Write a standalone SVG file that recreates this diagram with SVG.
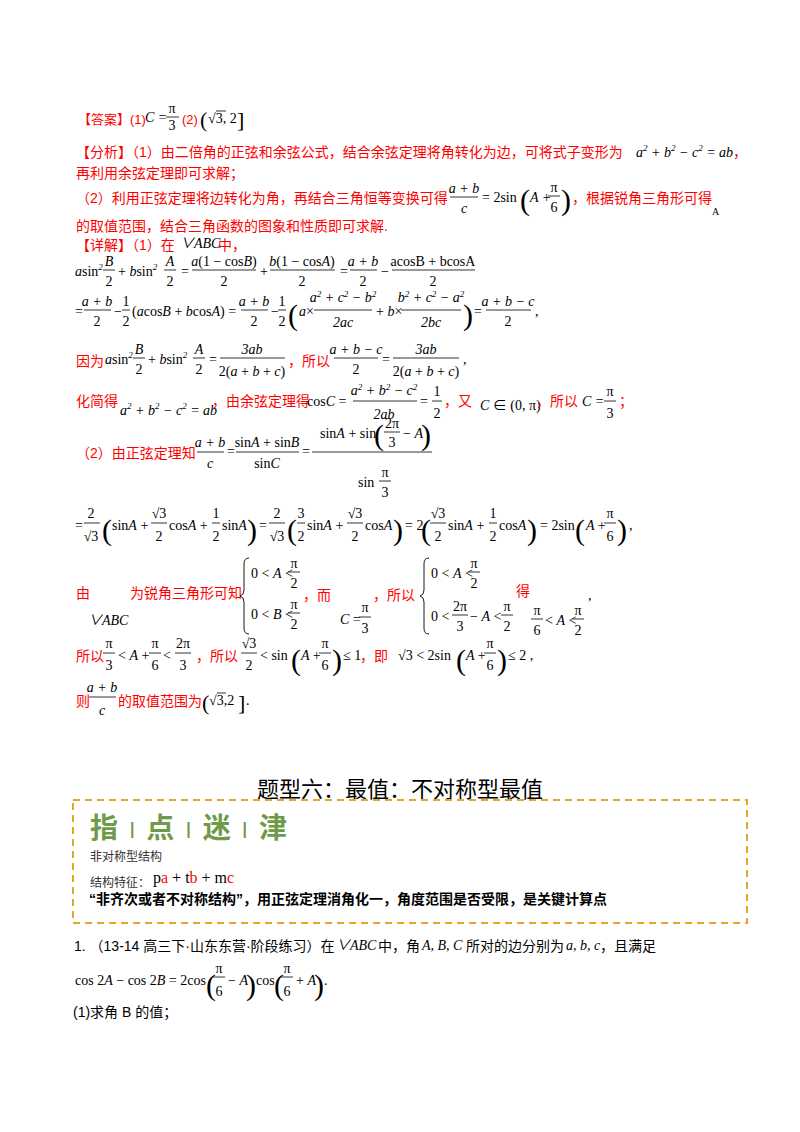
<svg xmlns="http://www.w3.org/2000/svg" width="800" height="1132" viewBox="0 0 800 1132">
<style>
.r{fill:#f00;font-family:"Liberation Sans","Noto Sans CJK SC",sans-serif;font-size:14px}
.k{fill:#000;font-family:"Liberation Sans","Noto Sans CJK SC",sans-serif;font-size:14px}
.m{fill:#000;font-family:"Liberation Serif","Noto Sans CJK SC",serif;font-size:14px}
.s{font-size:13px}
.c{text-anchor:middle}
.i{font-style:italic}
.p{fill:#000;font-family:"Liberation Serif",serif;font-size:30px}
.q{fill:#000;font-family:"Liberation Serif",serif;font-size:22px}
line{stroke:#000;stroke-width:0.8}
.br{fill:none;stroke:#000;stroke-width:0.9}
.sup{font-size:9px}
</style>
<rect width="800" height="1132" fill="#fff"/>
<g id="answer">
<text class="r s" x="78" y="124">【答案】(1)</text>
<text class="m i" x="145" y="122">C =</text>
<text class="m c" x="172" y="113">π</text><line x1="166" y1="117" x2="179" y2="117"/><text class="m c" x="172" y="130">3</text>
<text class="r s" x="182" y="124">(2)</text>
<text class="q" x="200" y="127">(</text><text class="m" x="208" y="123">√3, 2</text><line x1="216" y1="111" x2="226" y2="111"/><text class="q" x="237" y="127">]</text>
</g>
<g id="analysis">
<text class="r" x="76" y="157">【分析】（1）由二倍角的正弦和余弦公式，结合余弦定理将角转化为边，可将式子变形为</text>
<text class="m i" x="636" y="157">a<tspan class="sup" dy="-6">2</tspan><tspan dy="6"> + b</tspan><tspan class="sup" dy="-6">2</tspan><tspan dy="6"> − c</tspan><tspan class="sup" dy="-6">2</tspan><tspan dy="6"> = ab</tspan></text><text class="r" x="733" y="157">，</text>
<text class="r" x="76" y="178">再利用余弦定理即可求解；</text>
<text class="r" x="76" y="203">（2）利用正弦定理将边转化为角，再结合三角恒等变换可得</text>
<text class="m i c" x="464" y="193">a + b</text><line x1="450" y1="197" x2="478" y2="197"/><text class="m i c" x="464" y="213">c</text>
<text class="m" x="482" y="202">= 2sin</text><text class="p" x="520" y="210">(</text><text class="m i" x="530" y="202">A +</text>
<text class="m c" x="554" y="192">π</text><line x1="548" y1="196" x2="560" y2="196"/><text class="m c" x="554" y="212">6</text><text class="p" x="561" y="210">)</text>
<text class="r" x="572" y="203">，根据锐角三角形可得</text>
<text class="m" x="712" y="215" style="font-size:10px">A</text>
<text class="r" x="76" y="231">的取值范围，结合三角函数的图象和性质即可求解.</text>
</g>
<g id="detail1">
<text class="r" x="76" y="250">【详解】（1）在</text><text class="m i" x="180" y="248">∨ABC</text><text class="r" x="218" y="250">中，</text>
<text class="m i" x="75" y="276">a<tspan font-style="normal">sin</tspan><tspan class="sup" dy="-6">2</tspan></text>
<text class="m i c" x="109" y="266">B</text><line x1="103" y1="270" x2="115" y2="270"/><text class="m c" x="109" y="286">2</text>
<text class="m i" x="118" y="276"><tspan font-style="normal">+ </tspan>b<tspan font-style="normal">sin</tspan><tspan class="sup" dy="-6">2</tspan></text>
<text class="m i c" x="170" y="266">A</text><line x1="164" y1="270" x2="176" y2="270"/><text class="m c" x="170" y="286">2</text>
<text class="m" x="181" y="276">=</text>
<text class="m c" x="224" y="266"><tspan class="i">a</tspan>(1 − cos<tspan class="i">B</tspan>)</text><line x1="192" y1="270" x2="256" y2="270"/><text class="m c" x="224" y="286">2</text>
<text class="m" x="260" y="276">+</text>
<text class="m c" x="302" y="266"><tspan class="i">b</tspan>(1 − cos<tspan class="i">A</tspan>)</text><line x1="270" y1="270" x2="335" y2="270"/><text class="m c" x="302" y="286">2</text>
<text class="m" x="340" y="276">=</text>
<text class="m i c" x="363" y="266">a + b</text><line x1="350" y1="270" x2="377" y2="270"/><text class="m c" x="363" y="286">2</text>
<text class="m" x="381" y="276">−</text>
<text class="m c" x="433" y="266">acosB + bcosA</text><line x1="392" y1="270" x2="475" y2="270"/><text class="m c" x="433" y="286">2</text>

<text class="m" x="75" y="316">=</text>
<text class="m i c" x="97" y="306">a + b</text><line x1="84" y1="310" x2="111" y2="310"/><text class="m c" x="97" y="326">2</text>
<text class="m" x="114" y="316">−</text>
<text class="m c" x="126" y="306">1</text><line x1="122" y1="310" x2="130" y2="310"/><text class="m c" x="126" y="326">2</text>
<text class="m" x="132" y="316">(<tspan class="i">a</tspan>cos<tspan class="i">B</tspan> + <tspan class="i">b</tspan>cos<tspan class="i">A</tspan>) =</text>
<text class="m i c" x="254" y="306">a + b</text><line x1="241" y1="310" x2="268" y2="310"/><text class="m c" x="254" y="326">2</text>
<text class="m" x="271" y="316">−</text>
<text class="m c" x="282" y="306">1</text><line x1="278" y1="310" x2="286" y2="310"/><text class="m c" x="282" y="326">2</text>
<text class="p" x="288" y="325">(</text>
<text class="m i" x="299" y="316">a<tspan font-style="normal">×</tspan></text>
<text class="m i c" x="343" y="302">a<tspan class="sup" dy="-5">2</tspan><tspan dy="5"> + c</tspan><tspan class="sup" dy="-5">2</tspan><tspan dy="5"> − b</tspan><tspan class="sup" dy="-5">2</tspan></text><line x1="314" y1="310" x2="372" y2="310"/><text class="m i c" x="343" y="327">2ac</text>
<text class="m i" x="376" y="316"><tspan font-style="normal">+ </tspan>b<tspan font-style="normal">×</tspan></text>
<text class="m i c" x="431" y="302">b<tspan class="sup" dy="-5">2</tspan><tspan dy="5"> + c</tspan><tspan class="sup" dy="-5">2</tspan><tspan dy="5"> − a</tspan><tspan class="sup" dy="-5">2</tspan></text><line x1="401" y1="310" x2="461" y2="310"/><text class="m i c" x="431" y="327">2bc</text>
<text class="p" x="463" y="325">)</text>
<text class="m" x="474" y="316">=</text>
<text class="m i c" x="508" y="306">a + b − c</text><line x1="486" y1="310" x2="531" y2="310"/><text class="m c" x="508" y="326">2</text>
<text class="m" x="535" y="316">,</text>

<text class="r" x="76" y="366">因为</text>
<text class="m i" x="105" y="364">a<tspan font-style="normal">sin</tspan><tspan class="sup" dy="-6">2</tspan></text>
<text class="m i c" x="139" y="354">B</text><line x1="133" y1="358" x2="145" y2="358"/><text class="m c" x="139" y="374">2</text>
<text class="m i" x="148" y="364"><tspan font-style="normal">+ </tspan>b<tspan font-style="normal">sin</tspan><tspan class="sup" dy="-6">2</tspan></text>
<text class="m i c" x="199" y="354">A</text><line x1="193" y1="358" x2="205" y2="358"/><text class="m c" x="199" y="374">2</text>
<text class="m" x="209" y="364">=</text>
<text class="m i c" x="252" y="354">3ab</text><line x1="220" y1="358" x2="285" y2="358"/><text class="m c" x="252" y="376">2(<tspan class="i">a</tspan> + <tspan class="i">b</tspan> + <tspan class="i">c</tspan>)</text>
<text class="r" x="288" y="366">，所以</text>
<text class="m i c" x="356" y="354">a + b − c</text><line x1="334" y1="358" x2="378" y2="358"/><text class="m c" x="356" y="374">2</text>
<text class="m" x="382" y="364">=</text>
<text class="m i c" x="426" y="354">3ab</text><line x1="393" y1="358" x2="459" y2="358"/><text class="m c" x="426" y="376">2(<tspan class="i">a</tspan> + <tspan class="i">b</tspan> + <tspan class="i">c</tspan>)</text>
<text class="m" x="463" y="364">,</text>

<text class="r" x="76" y="406">化简得</text>
<text class="m i" x="120" y="415">a<tspan class="sup" dy="-6">2</tspan><tspan dy="6"> + b</tspan><tspan class="sup" dy="-6">2</tspan><tspan dy="6"> − c</tspan><tspan class="sup" dy="-6">2</tspan><tspan dy="6"> = ab</tspan></text>
<text class="r" x="212" y="406">，由余弦定理得</text>
<text class="m" x="307" y="406">cos<tspan class="i">C</tspan> =</text>
<text class="m i c" x="384" y="395">a<tspan class="sup" dy="-5">2</tspan><tspan dy="5"> + b</tspan><tspan class="sup" dy="-5">2</tspan><tspan dy="5"> − c</tspan><tspan class="sup" dy="-5">2</tspan></text><line x1="353" y1="401" x2="417" y2="401"/><text class="m i c" x="384" y="419">2ab</text>
<text class="m" x="420" y="406">=</text>
<text class="m c" x="437" y="396">1</text><line x1="432" y1="401" x2="442" y2="401"/><text class="m c" x="437" y="418">2</text>
<text class="r" x="444" y="406">，又</text>
<text class="m" x="480" y="410"><tspan class="i">C</tspan> ∈ (0, π)</text>
<text class="r" x="536" y="406">，所以</text>
<text class="m i" x="582" y="406">C =</text>
<text class="m c" x="610" y="396">π</text><line x1="604" y1="401" x2="616" y2="401"/><text class="m c" x="610" y="418">3</text>
<text class="r" x="619" y="406">；</text>
</g>
<g id="detail2">
<text class="r" x="76" y="458">（2）由正弦定理知</text>
<text class="m i c" x="210" y="447">a + b</text><line x1="197" y1="452" x2="224" y2="452"/><text class="m i c" x="210" y="468">c</text>
<text class="m" x="227" y="456">=</text>
<text class="m c" x="267" y="447">sin<tspan class="i">A</tspan> + sin<tspan class="i">B</tspan></text><line x1="236" y1="452" x2="299" y2="452"/><text class="m c" x="267" y="468">sin<tspan class="i">C</tspan></text>
<text class="m" x="302" y="456">=</text>
<text class="m" x="320" y="438">sin<tspan class="i">A</tspan> + sin</text>
<text class="p" x="374" y="445">(</text>
<text class="m c" x="392" y="428">2π</text><line x1="384" y1="432" x2="400" y2="432"/><text class="m c" x="392" y="447">3</text>
<text class="m i" x="403" y="438"><tspan font-style="normal">− </tspan>A</text>
<text class="p" x="421" y="445">)</text>
<line x1="312" y1="452" x2="432" y2="452"/>
<text class="m" x="358" y="487">sin</text>
<text class="m c" x="385" y="477">π</text><line x1="379" y1="481" x2="391" y2="481"/><text class="m c" x="385" y="497">3</text>

<text class="m" x="75" y="530">=</text>
<text class="m c" x="91" y="518">2</text><line x1="84" y1="523" x2="100" y2="523"/><text class="m c" x="91" y="541">√3</text>
<text class="p" x="102" y="540">(</text>
<text class="m" x="112" y="530">sin<tspan class="i">A</tspan> +</text>
<text class="m c" x="159" y="518">√3</text><line x1="151" y1="523" x2="167" y2="523"/><text class="m c" x="159" y="541">2</text>
<text class="m" x="169" y="530">cos<tspan class="i">A</tspan> +</text>
<text class="m c" x="216" y="518">1</text><line x1="212" y1="523" x2="220" y2="523"/><text class="m c" x="216" y="541">2</text>
<text class="m" x="222" y="530">sin<tspan class="i">A</tspan></text>
<text class="p" x="247" y="540">)</text>
<text class="m" x="259" y="530">=</text>
<text class="m c" x="277" y="518">2</text><line x1="269" y1="523" x2="285" y2="523"/><text class="m c" x="277" y="541">√3</text>
<text class="p" x="287" y="540">(</text>
<text class="m c" x="301" y="518">3</text><line x1="297" y1="523" x2="305" y2="523"/><text class="m c" x="301" y="541">2</text>
<text class="m" x="307" y="530">sin<tspan class="i">A</tspan> +</text>
<text class="m c" x="355" y="518">√3</text><line x1="347" y1="523" x2="363" y2="523"/><text class="m c" x="355" y="541">2</text>
<text class="m" x="365" y="530">cos<tspan class="i">A</tspan></text>
<text class="p" x="393" y="540">)</text>
<text class="m" x="405" y="530">= 2</text>
<text class="p" x="421" y="540">(</text>
<text class="m c" x="438" y="518">√3</text><line x1="430" y1="523" x2="446" y2="523"/><text class="m c" x="438" y="541">2</text>
<text class="m" x="448" y="530">sin<tspan class="i">A</tspan> +</text>
<text class="m c" x="493" y="518">1</text><line x1="489" y1="523" x2="497" y2="523"/><text class="m c" x="493" y="541">2</text>
<text class="m" x="499" y="530">cos<tspan class="i">A</tspan></text>
<text class="p" x="527" y="540">)</text>
<text class="m" x="540" y="530">= 2sin</text>
<text class="p" x="575" y="540">(</text>
<text class="m i" x="586" y="530">A <tspan font-style="normal">+</tspan></text>
<text class="m c" x="610" y="518">π</text><line x1="604" y1="523" x2="616" y2="523"/><text class="m c" x="610" y="541">6</text>
<text class="p" x="617" y="540">)</text>
<text class="m" x="629" y="530">,</text>

<text class="r" x="76" y="598">由</text>
<text class="m i" x="88" y="625">∨ABC</text>
<text class="r" x="130" y="598">为锐角三角形可知</text>
<path class="br" d="M249 558 Q244 558 244 564 L244 590 Q244 595 240 596 Q244 597 244 602 L244 628 Q244 634 249 634"/>
<text class="m" x="251" y="578">0 &lt; <tspan class="i">A</tspan> &lt;</text>
<text class="m c" x="294" y="568">π</text><line x1="288" y1="572" x2="300" y2="572"/><text class="m c" x="294" y="588">2</text>
<text class="m" x="251" y="619">0 &lt; <tspan class="i">B</tspan> &lt;</text>
<text class="m c" x="294" y="609">π</text><line x1="288" y1="613" x2="300" y2="613"/><text class="m c" x="294" y="629">2</text>
<text class="r" x="303" y="600">，而</text>
<text class="m i" x="340" y="624">C <tspan font-style="normal">=</tspan></text>
<text class="m c" x="365" y="612">π</text><line x1="359" y1="617" x2="371" y2="617"/><text class="m c" x="365" y="633">3</text>
<text class="r" x="373" y="600">，所以</text>
<path class="br" d="M429 558 Q424 558 424 564 L424 590 Q424 595 420 596 Q424 597 424 602 L424 628 Q424 634 429 634"/>
<text class="m" x="431" y="578">0 &lt; <tspan class="i">A</tspan> &lt;</text>
<text class="m c" x="474" y="568">π</text><line x1="468" y1="572" x2="480" y2="572"/><text class="m c" x="474" y="588">2</text>
<text class="m" x="431" y="621">0 &lt;</text>
<text class="m c" x="460" y="611">2π</text><line x1="452" y1="615" x2="468" y2="615"/><text class="m c" x="460" y="631">3</text>
<text class="m" x="470" y="621">− <tspan class="i">A</tspan> &lt;</text>
<text class="m c" x="507" y="611">π</text><line x1="501" y1="615" x2="513" y2="615"/><text class="m c" x="507" y="631">2</text>
<text class="r" x="516" y="596">得</text>
<text class="m c" x="537" y="615">π</text><line x1="531" y1="619" x2="543" y2="619"/><text class="m c" x="537" y="635">6</text>
<text class="m" x="545" y="625">&lt; <tspan class="i">A</tspan> &lt;</text>
<text class="m c" x="578" y="615">π</text><line x1="572" y1="619" x2="584" y2="619"/><text class="m c" x="578" y="635">2</text>
<text class="m" x="588" y="600">,</text>

<text class="r" x="76" y="661">所以</text>
<text class="m c" x="109" y="648">π</text><line x1="103" y1="653" x2="115" y2="653"/><text class="m c" x="109" y="670">3</text>
<text class="m" x="118" y="660">&lt; <tspan class="i">A</tspan> +</text>
<text class="m c" x="155" y="648">π</text><line x1="149" y1="653" x2="161" y2="653"/><text class="m c" x="155" y="670">6</text>
<text class="m" x="163" y="660">&lt;</text>
<text class="m c" x="183" y="648">2π</text><line x1="175" y1="653" x2="191" y2="653"/><text class="m c" x="183" y="670">3</text>
<text class="r" x="196" y="661">，所以</text>
<text class="m c" x="249" y="648">√3</text><line x1="241" y1="653" x2="257" y2="653"/><text class="m c" x="249" y="670">2</text>
<text class="m" x="260" y="660">&lt; sin</text>
<text class="p" x="291" y="670">(</text>
<text class="m i" x="301" y="660">A <tspan font-style="normal">+</tspan></text>
<text class="m c" x="325" y="648">π</text><line x1="319" y1="653" x2="331" y2="653"/><text class="m c" x="325" y="670">6</text>
<text class="p" x="332" y="670">)</text>
<text class="m" x="343" y="660">≤ 1</text>
<text class="r" x="360" y="661">，即</text>
<text class="m" x="398" y="660">√3 &lt; 2sin</text>
<text class="p" x="456" y="670">(</text>
<text class="m i" x="466" y="660">A <tspan font-style="normal">+</tspan></text>
<text class="m c" x="490" y="648">π</text><line x1="484" y1="653" x2="496" y2="653"/><text class="m c" x="490" y="670">6</text>
<text class="p" x="497" y="670">)</text>
<text class="m" x="508" y="660">≤ 2 ,</text>

<text class="r" x="76" y="706">则</text>
<text class="m i c" x="102" y="692">a + b</text><line x1="89" y1="697" x2="116" y2="697"/><text class="m i c" x="102" y="715">c</text>
<text class="r" x="118" y="706">的取值范围为</text>
<text class="q" x="202" y="710">(</text><text class="m" x="209" y="705">√3,2</text><line x1="217" y1="693" x2="226" y2="693"/><text class="q" x="238" y="710">]</text>
<text class="m" x="246" y="705">.</text>
</g>
<g id="section">
<text class="k" x="400" y="797" text-anchor="middle" style="font-size:22px">题型六：最值：不对称型最值</text>
<rect x="73" y="800" width="674" height="123" fill="none" stroke="#e0a92a" stroke-width="2" stroke-dasharray="7,5"/>
<text x="90" y="838" font-family="'Noto Sans CJK SC',sans-serif" font-size="28" font-weight="bold" fill="#6e9a4a">指<tspan dx="6" font-weight="normal" font-size="22"> I </tspan><tspan dx="6">点</tspan><tspan dx="6" font-weight="normal" font-size="22"> I </tspan><tspan dx="6">迷</tspan><tspan dx="6" font-weight="normal" font-size="22"> I </tspan><tspan dx="6">津</tspan></text>
<text class="k" x="90" y="861" style="font-size:12px;fill:#333">非对称型结构</text>
<text class="k" x="90" y="887" style="font-size:12px;fill:#333">结构特征：</text>
<text class="m" x="153" y="883" style="font-size:16px">p<tspan fill="#f00">a</tspan> + t<tspan fill="#f00">b</tspan> + m<tspan fill="#f00">c</tspan></text>
<text class="k" x="89" y="904" font-weight="bold">“非齐次或者不对称结构”，用正弦定理消角化一，角度范围是否受限，是关键计算点</text>
</g>
<g id="problem">
<text class="k" x="74" y="951">1.  （13-14 高三下·山东东营·阶段练习）在</text><text class="m i" x="336" y="950">∨ABC</text><text class="k" x="378" y="951">中，角</text><text class="m i" x="422" y="950">A, B, C</text><text class="k" x="466" y="951">所对的边分别为</text><text class="m i" x="566" y="950">a, b, c</text><text class="k" x="600" y="951">，且满足</text>
<text class="m" x="75" y="985">cos 2<tspan class="i">A</tspan> − cos 2<tspan class="i">B</tspan> = 2cos</text>
<text class="p" x="206" y="995">(</text>
<text class="m c" x="219" y="973">π</text><line x1="213" y1="977" x2="225" y2="977"/><text class="m c" x="219" y="996">6</text>
<text class="m" x="228" y="985">− <tspan class="i">A</tspan></text>
<text class="p" x="246" y="995">)</text>
<text class="m" x="256" y="985">cos</text>
<text class="p" x="274" y="995">(</text>
<text class="m c" x="287" y="973">π</text><line x1="281" y1="977" x2="293" y2="977"/><text class="m c" x="287" y="996">6</text>
<text class="m" x="296" y="985">+ <tspan class="i">A</tspan></text>
<text class="p" x="314" y="995">)</text>
<text class="m" x="324" y="985">.</text>
<text class="k" x="73" y="1017">(1)求角 B 的值；</text>
</g>
</svg>
